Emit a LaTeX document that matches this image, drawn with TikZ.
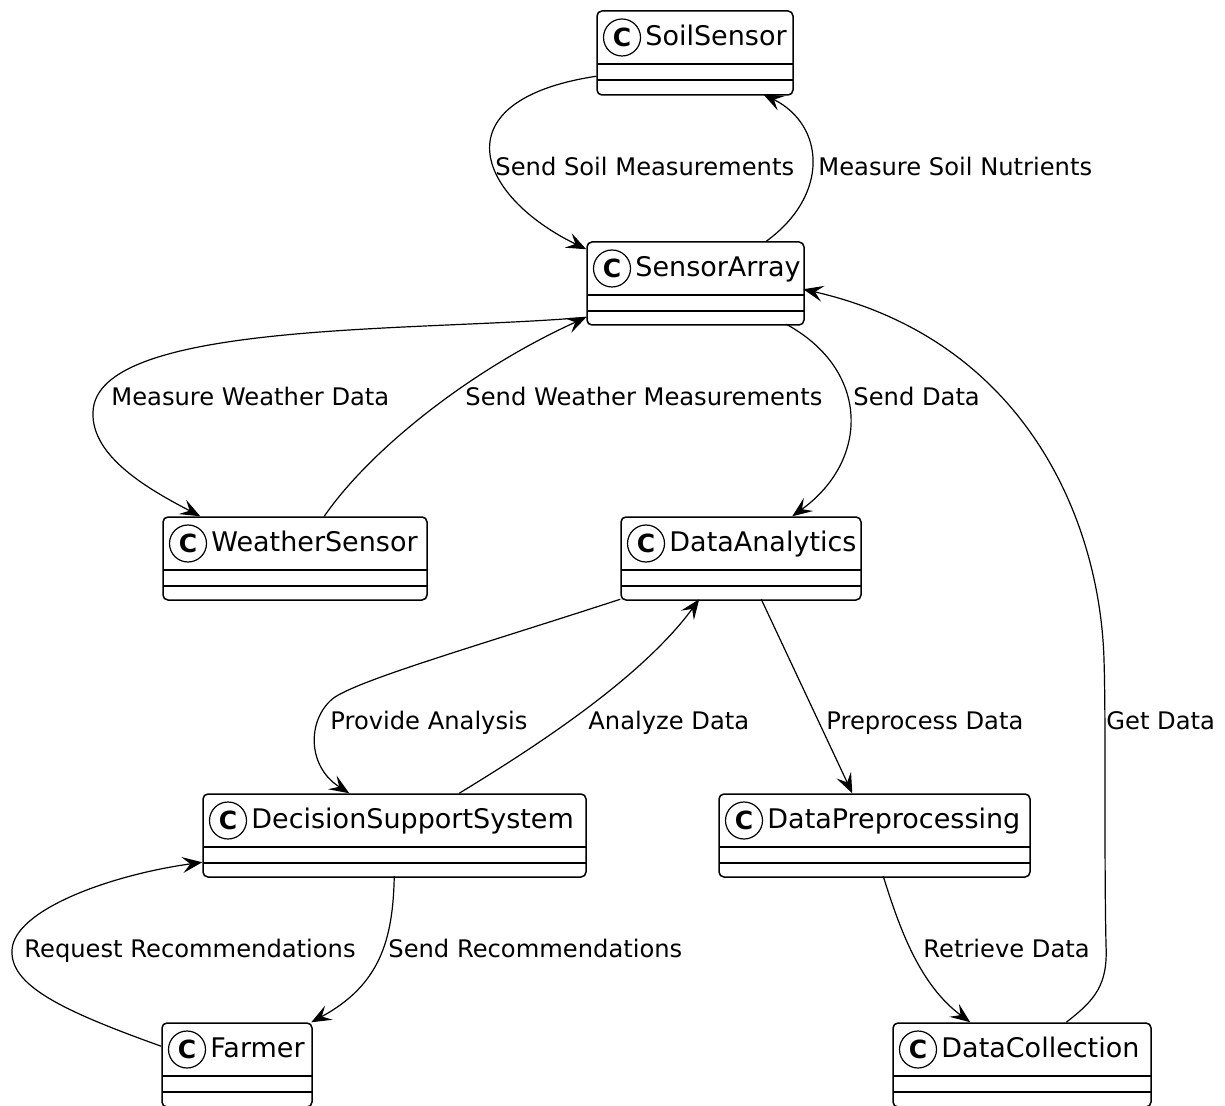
\documentclass[tikz,border=0pt]{standalone}
\usepackage{fontspec}
\setmainfont{DejaVu Sans}
\usetikzlibrary{arrows.meta,calc,fit}
\tikzset{
  clsbox/.style={draw, line width=0.75pt, rounded corners=2.5pt, inner sep=0pt, fill=white},
  sepline/.style={line width=0.75pt},
  spot/.style={circle, draw, line width=0.6pt, minimum size=18.5pt, inner sep=0pt, font=\bfseries\fontsize{12.5pt}{12.5pt}\selectfont},
  clsname/.style={anchor=base west, inner sep=0pt, font=\fontsize{13.5pt}{15pt}\selectfont},
  lbl/.style={anchor=base west, inner sep=0pt, font=\fontsize{12.1pt}{14pt}\selectfont},
  conn/.style={line width=0.6pt, -{Stealth[length=10pt,width=8pt,inset=4pt]}}
}
\newcommand\umlcls[6]{%
  \node[clsbox, fit={(#2,#3) (#4,#5)}] (#1) {};
  \draw[sepline] (#2,#3+53) -- (#4,#3+53);
  \draw[sepline] (#2,#3+69) -- (#4,#3+69);
  \node[spot] (#1-spot) at (#2+25,#3+26.5) {C};
  \node[clsname] (#1-name) at (#2+48,#3+34.5) {#6};
}
\begin{document}
\begin{tikzpicture}[x=0.5pt,y=-0.5pt]
\useasboundingbox (0,0) rectangle (1225,1106);
\fill[white] (0,0) rectangle (1225,1106);

% classes
\umlcls{soil}{597}{11}{793}{95}{SoilSensor}
\umlcls{array}{587}{242}{804}{325}{SensorArray}
\umlcls{weather}{163}{517}{427}{600}{WeatherSensor}
\umlcls{analytics}{621}{517}{861}{600}{DataAnalytics}
\umlcls{dss}{203}{794}{586}{877}{DecisionSupportSystem}
\umlcls{prep}{719}{794}{1030}{877}{DataPreprocessing}
\umlcls{farmer}{162}{1023}{312}{1107}{Farmer}
\umlcls{coll}{893}{1023}{1151}{1107}{DataCollection}

% connectors
\draw[conn] ($(soil.north west)+(0,66)$) .. controls (440,100) and (475,195) .. ($(array.north west)+(0,8)$);
\draw[conn] ($(array.north west)+(180,0)$) .. controls (830,195) and (825,125) .. ($(soil.north west)+(167,84)$);
\draw[conn] ($(array.north west)+(0,76)$) .. controls (420,332) and (96,320) .. (93,412) .. controls (91,457) and (150,490) .. ($(weather.north west)+(38,0)$);
\draw[conn] ($(weather.north west)+(162,0)$) .. controls (370,450) and (470,370) .. ($(array.north west)+(0,76)$);
\draw[conn] ($(array.north west)+(200,83)$) .. controls (870,370) and (870,460) .. ($(analytics.north west)+(172,0)$);
\draw[conn] ($(coll.north west)+(174,0)$) .. controls (1095,1000) and (1108,985) .. (1106,945) .. controls (1104,850) and (1106,720) .. (1104,660) .. controls (1100,520) and (1025,340) .. ($(array.north west)+(217,48)$);
\draw[conn] ($(analytics.north west)+(0,83)$) .. controls (480,645) and (365,678) .. (335,697) .. controls (308,716) and (305,765) .. ($(dss.north west)+(147,0)$);
\draw[conn] ($(dss.north west)+(257,0)$) .. controls (530,750) and (640,680) .. ($(analytics.north west)+(79,83)$);
\draw[conn] ($(analytics.north west)+(141,83)$) -- ($(prep.north west)+(134,0)$);
\draw[conn] ($(prep.north west)+(165,83)$) .. controls (900,930) and (920,985) .. ($(coll.north west)+(78,0)$);
\draw[conn] ($(dss.north west)+(192,83)$) .. controls (393,940) and (380,985) .. ($(farmer.north west)+(150,0)$);
\draw[conn] ($(farmer.north west)+(0,24)$) .. controls (60,1010) and (10,985) .. (12,950) .. controls (14,910) and (110,875) .. ($(dss.north west)+(0,69)$);

% labels
\node[lbl] (l1) at (495,176) {Send Soil Measurements};
\node[lbl] (l2) at (818,176) {Measure Soil Nutrients};
\node[lbl] (l3) at (111,406) {Measure Weather Data};
\node[lbl] (l4) at (465,406) {Send Weather Measurements};
\node[lbl] (l5) at (853,406) {Send Data};
\node[lbl] (l6) at (330,729) {Provide Analysis};
\node[lbl] (l7) at (588,729) {Analyze Data};
\node[lbl] (l8) at (826,729) {Preprocess Data};
\node[lbl] (l9) at (1106,729) {Get Data};
\node[lbl] (l10) at (24,957) {Request Recommendations};
\node[lbl] (l11) at (388,957) {Send Recommendations};
\node[lbl] (l12) at (923,957) {Retrieve Data};
\end{tikzpicture}
\end{document}
